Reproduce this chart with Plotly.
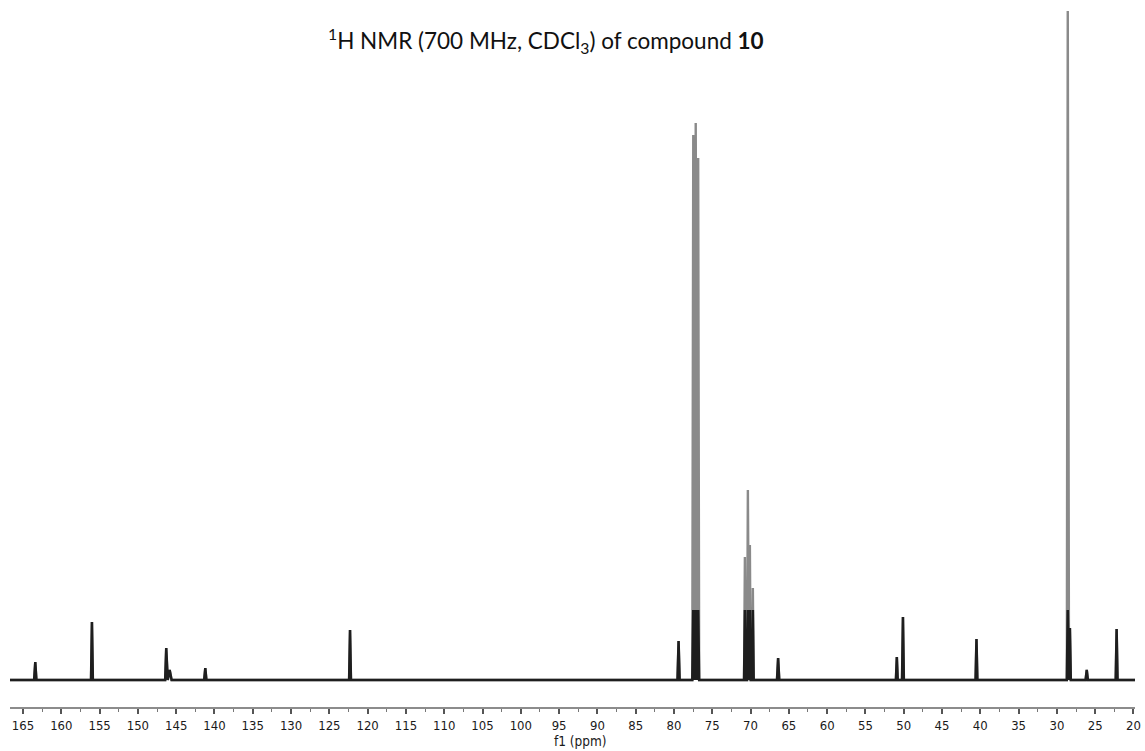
import plotly.graph_objects as go

# ---- data ----
ppm_start = 166.7
ppm_end = 19.8
peak_ppm = [163.4, 156.0, 146.3, 145.85, 141.2, 122.3, 79.4, 77.48, 77.16, 76.84,
            70.74, 70.35, 70.09, 69.70, 66.4, 50.9, 50.1, 40.5, 28.58, 28.3, 26.1, 22.2]
peak_height = [18, 58, 32, 10, 12, 50, 39, 545, 557, 522,
               123, 190, 135, 92, 22, 23, 63, 41, 669, 52, 10, 51]
peak_halfwidth = [0.15, 0.12, 0.14, 0.25, 0.15, 0.12, 0.14, 0.13, 0.13, 0.13,
                  0.11, 0.11, 0.11, 0.11, 0.15, 0.12, 0.12, 0.12, 0.12, 0.12, 0.15, 0.12]
tick_values = list(range(165, 19, -5))
tick_labels = [str(v) for v in tick_values]

# build stick-style spectrum from the peak list
order = sorted(range(len(peak_ppm)), key=lambda i: -peak_ppm[i])
xs, ys = [ppm_start], [0]
for i in order:
    p, h, w = peak_ppm[i], peak_height[i], peak_halfwidth[i]
    xs += [p + w, p, p - w]
    ys += [0, h, 0]
xs.append(ppm_end)
ys.append(0)

clip = 70
ys_low = [min(v, clip) for v in ys]

fig = go.Figure()
fig.add_trace(go.Scatter(x=xs, y=ys, mode="lines",
                         line=dict(color="#8a8a8a", width=2.4), hoverinfo="skip"))
fig.add_trace(go.Scatter(x=xs, y=ys_low, mode="lines",
                         line=dict(color="#1e1e1e", width=2.5), hoverinfo="skip"))

fig.update_layout(
    width=1145, height=751,
    margin=dict(l=10, r=10, t=0, b=44),
    paper_bgcolor="white", plot_bgcolor="white",
    showlegend=False,
    xaxis=dict(range=[ppm_start, ppm_end], showgrid=False, zeroline=False,
               showline=True, linecolor="#8c8c8c", linewidth=2,
               ticks="outside", ticklen=5, tickwidth=1.5, tickcolor="#555",
               tickmode="array", tickvals=tick_values, ticktext=tick_labels,
               ticklabelstandoff=0,
               tickfont=dict(family="Liberation Sans Narrow, DejaVu Sans Condensed, Arial Narrow, sans-serif",
                             size=13, color="#1a1a1a"),
               minor=dict(dtick=2.5, ticks="outside", ticklen=3, tickcolor="#777", tickwidth=1)),
    yaxis=dict(range=[-27, 680], visible=False),
    annotations=[
        dict(text="<sup>1</sup>H NMR (700 MHz, CDCl<sub>3</sub>) of compound <b>10</b>",
             xref="paper", yref="paper", x=0.476, y=0.943, showarrow=False,
             xanchor="center", yanchor="middle",
             font=dict(family="Lato, Carlito, Calibri, sans-serif", size=22.5, color="#111")),
        dict(text="f1 (ppm)", xref="paper", yref="paper", x=0.5067, y=-0.048,
             showarrow=False, xanchor="center", yanchor="middle",
             font=dict(family="Liberation Sans Narrow, DejaVu Sans Condensed, Arial Narrow, sans-serif",
                       size=13.5, color="#1a1a1a")),
    ],
)

# remove the default 8px page margin so the figure fills the window exactly
fig.write_html("out.html", config={"displayModeBar": False},
               post_script="document.body.style.margin='0';document.body.style.overflow='hidden';")
